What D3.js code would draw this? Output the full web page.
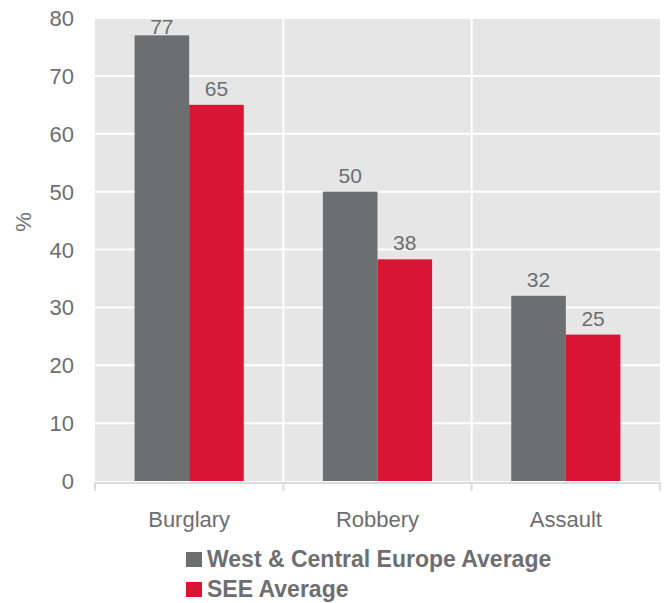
<!DOCTYPE html>
<html><head><meta charset="utf-8">
<script src="https://cdn.jsdelivr.net/npm/d3@7"></script>
<style>body{margin:0;background:#fff}svg{display:block;font-family:"Liberation Sans",Arial,Helvetica,sans-serif}</style>
</head><body><svg id="c" width="670" height="603"></svg>
<script>
const categories = ["Burglary", "Robbery", "Assault"];
const seriesNames = ["West & Central Europe Average", "SEE Average"];
const westValues = [77, 50, 32];
const seeValues = [65, 38.3, 25.3];
const yTicks = [0, 10, 20, 30, 40, 50, 60, 70, 80];
const colors = ["#6d6e70", "#d91535"];
const textColor = "#6d6e71";

const svg = d3.select("#c");
const L = 95, R = 660, T = 18, B = 481;
const x = d3.scaleBand().domain(categories).range([L, R]).paddingInner(0).paddingOuter(0);
const y = d3.scaleLinear().domain([0, 80]).range([B, T]);
const sub = d3.scaleBand().domain([0, 1]).range([0, x.bandwidth()]).paddingInner(0).paddingOuter(0.725);

svg.append("rect").attr("x", L).attr("y", T).attr("width", R - L).attr("height", B - T).attr("fill", "#e6e6e6");
svg.append("g").selectAll("line").data(yTicks.slice(1)).join("line")
  .attr("x1", L).attr("x2", R).attr("y1", d => y(d)).attr("y2", d => y(d))
  .attr("stroke", "#fff").attr("stroke-width", 2);
svg.append("g").selectAll("line").data(categories.slice(1)).join("line")
  .attr("x1", d => x(d)).attr("x2", d => x(d)).attr("y1", T).attr("y2", B)
  .attr("stroke", "#fff").attr("stroke-width", 2);

const data = [westValues, seeValues];
data.forEach((vals, si) => {
  const g = svg.append("g");
  g.selectAll("rect").data(categories).join("rect")
    .attr("x", (d) => x(d) + sub(si)).attr("width", sub.bandwidth())
    .attr("y", (d, i) => y(vals[i])).attr("height", (d, i) => B - y(vals[i]))
    .attr("fill", colors[si]);
  g.selectAll("text").data(categories).join("text")
    .attr("x", d => x(d) + sub(si) + sub.bandwidth() / 2)
    .attr("y", (d, i) => Math.max(y(vals[i]) - 9, 34))
    .attr("text-anchor", "middle").attr("font-size", 21).attr("fill", textColor)
    .text((d, i) => Math.round(vals[i]));
});

// x axis
const xa = svg.append("g");
xa.append("line").attr("x1", L).attr("x2", R).attr("y1", B + 2).attr("y2", B + 2).attr("stroke", "#dcdcdc").attr("stroke-width", 2);
const tickXs = categories.map(c => x(c)).concat([R]);
xa.selectAll("line.t").data(tickXs).join("line").attr("class", "t")
  .attr("x1", d => d).attr("x2", d => d).attr("y1", B + 1).attr("y2", B + 10)
  .attr("stroke", "#dcdcdc").attr("stroke-width", 2);
xa.selectAll("text").data(categories).join("text")
  .attr("x", d => x(d) + x.bandwidth() / 2).attr("y", 527)
  .attr("text-anchor", "middle").attr("font-size", 22).attr("fill", textColor).text(d => d);

// y axis labels
svg.append("g").selectAll("text").data(yTicks).join("text")
  .attr("x", 74).attr("y", d => y(d) + 8).attr("text-anchor", "end")
  .attr("font-size", 22).attr("fill", textColor).text(d => d);
svg.append("text").attr("transform", "translate(31,222) rotate(-90)")
  .attr("text-anchor", "middle").attr("font-size", 22).attr("fill", textColor).text("%");

// legend
const lg = svg.append("g");
seriesNames.forEach((n, i) => {
  lg.append("rect").attr("x", 186).attr("y", 552 + i * 30).attr("width", 16).attr("height", 15).attr("fill", colors[i]);
  lg.append("text").attr("x", 207).attr("y", 567 + i * 30).attr("font-size", 23).attr("font-weight", "bold")
    .attr("fill", textColor).text(n);
});
</script></body></html>
